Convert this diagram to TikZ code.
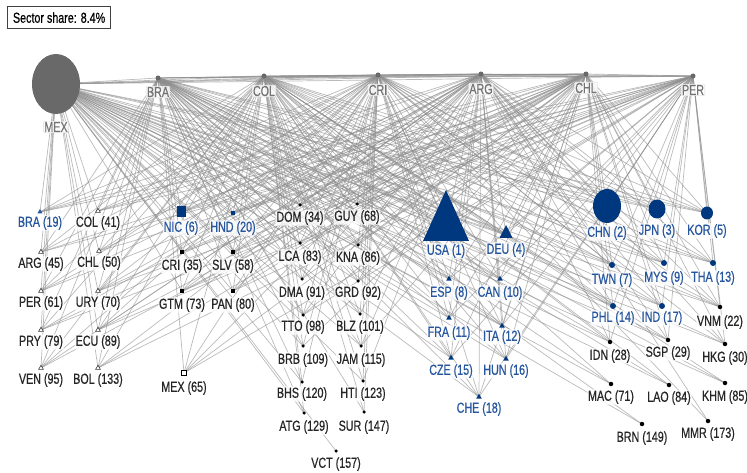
\documentclass[tikz,border=0pt]{standalone}
\usepackage{fontspec}
\setmainfont[FakeStretch=0.74, FakeBold=0.5]{Liberation Sans}
\usetikzlibrary{shapes.geometric}

\definecolor{navy}{RGB}{0,56,128}
\definecolor{labelblue}{RGB}{38,86,158}
\definecolor{hubgray}{RGB}{105,105,105}
\definecolor{edgegray}{RGB}{140,140,140}

\tikzset{
  edge/.style={draw=edgegray, line width=0.7pt, opacity=0.6},
  hub/.style={circle, fill=hubgray, inner sep=0pt, minimum size=5pt},
  lab/.style={fill=white, fill opacity=0.8, text opacity=1, inner sep=0.8pt,
    rounded corners=1pt, font=\fontsize{14.5}{16}\selectfont},
  hublab/.style={lab, text=black!55, draw=black!15, draw opacity=1},
  blk/.style={lab, text=black!85},
  blu/.style={lab, text=labelblue},
  tri/.style={regular polygon, regular polygon sides=3, inner sep=0pt, minimum size=6pt},
  latri/.style={tri, draw=black!80, fill=white, line width=0.6pt, minimum size=5.5pt},
  latrib/.style={tri, fill=labelblue},
  eutri/.style={tri, fill=navy, minimum size=6.5pt},
  sqr/.style={rectangle, fill=black, inner sep=0pt, minimum size=4.5pt},
  sqrb/.style={sqr, fill=navy},
  sqro/.style={sqr, fill=white, draw=black, line width=0.6pt},
  nicm/.style={rectangle, fill=navy, inner sep=0pt, minimum width=9pt, minimum height=11pt},
  cdot/.style={circle, fill=black, inner sep=0pt, minimum size=3.5pt},
  adot/.style={circle, fill=black, inner sep=0pt, minimum size=4.5pt},
  bdot/.style={circle, fill=navy, inner sep=0pt, minimum size=6pt},
  chnm/.style={ellipse, fill=navy, inner sep=0pt, minimum width=28pt, minimum height=34pt},
  jpnm/.style={ellipse, fill=navy, inner sep=0pt, minimum width=17pt, minimum height=19pt},
  korm/.style={ellipse, fill=navy, inner sep=0pt, minimum width=12pt, minimum height=13pt},
  nomark/.style={coordinate}
}

% exporters along the top
\def\hubs{mex/56/84/MEX/127, bra/158/78/BRA/92, col/264/76/COL/91, cri/378/75/CRI/90,
  arg/481/74/ARG/89, chl/586/74/CHL/88, per/693/76/PER/90}

% importers: name/x/y/label y/text/marker/label style/exporters
\def\importers{
  bra19/40/212/223/BRA (19)/latrib/blu/{mex,col,cri,arg,chl,per},
  col41/98/211/223/COL (41)/latri/blk/{mex,bra,cri,arg,chl,per},
  arg45/41/252/264/ARG (45)/latri/blk/{mex,bra,col,cri,chl,per},
  chl50/99/251/263/CHL (50)/latri/blk/{mex,bra,col,cri,arg,per},
  per61/41/291/303/PER (61)/latri/blk/{mex,bra,col,cri,arg,chl},
  ury70/98/291/303/URY (70)/latri/blk/{mex,bra,col,cri,arg,chl,per},
  pry79/41/330/342/PRY (79)/latri/blk/{mex,bra,col,arg,chl,per},
  ecu89/98/330/342/ECU (89)/latri/blk/{mex,bra,col,cri,arg,chl,per},
  ven95/41/368/380/VEN (95)/latri/blk/{mex,bra,col,cri,arg,chl},
  bol133/98/368/380/BOL (133)/latri/blk/{mex,bra,col,arg,chl,per},
  nic6/181/212/228/NIC (6)/nicm/blu/{mex,bra,col,cri,arg,chl,per},
  hnd20/233/213/228/HND (20)/sqrb/blu/{mex,bra,col,cri,arg,chl,per},
  cri35/182/252/266/CRI (35)/sqr/blk/{mex,bra,col,arg,chl,per},
  slv58/233/252/266/SLV (58)/sqr/blk/{mex,bra,col,cri,arg,chl,per},
  gtm73/182/291/305/GTM (73)/sqr/blk/{mex,bra,col,cri,arg,chl,per},
  pan80/233/291/305/PAN (80)/sqr/blk/{mex,bra,col,cri,arg,chl,per},
  mex65/184/373/388/MEX (65)/sqro/blk/{bra,col,cri,arg,chl,per},
  dom34/300/205/218/DOM (34)/cdot/blk/{mex,bra,col,cri,arg,chl,per},
  guy68/357/204/217/GUY (68)/cdot/blk/{mex,bra,col,cri,arg,chl,per},
  lca83/300/243/257/LCA (83)/cdot/blk/{mex,bra,col,cri,arg,chl},
  kna86/358/245/258/KNA (86)/cdot/blk/{mex,bra,col,cri,arg,chl},
  dma91/302/279/293/DMA (91)/cdot/blk/{mex,bra,col,cri,arg,chl},
  grd92/358/281/293/GRD (92)/cdot/blk/{mex,bra,col,cri,arg,chl},
  tto98/303/315/327/TTO (98)/cdot/blk/{mex,bra,col,cri,arg,chl,per},
  blz101/360/314/327/BLZ (101)/cdot/blk/{mex,bra,col,cri,arg},
  brb109/303/346/360/BRB (109)/cdot/blk/{mex,bra,col,cri,chl},
  jam115/361/346/360/JAM (115)/cdot/blk/{mex,bra,col,cri,arg,chl},
  bhs120/302/382/394/BHS (120)/cdot/blk/{mex,bra,col,cri},
  hti123/363/381/394/HTI (123)/cdot/blk/{mex,col,cri,arg},
  atg129/304/413/427/ATG (129)/cdot/blk/{mex,bra,col},
  sur147/364/412/427/SUR (147)/cdot/blk/{bra,col,cri},
  vct157/336/451/464/VCT (157)/cdot/blk/{mex},
  usa1/446/224/251/USA (1)/nomark/blu/{mex,bra,col,cri,arg,chl,per},
  deu4/506/234/250/DEU (4)/nomark/blu/{mex,bra,col,cri,arg,chl,per},
  esp8/449/279/293/ESP (8)/eutri/blu/{mex,bra,col,cri,arg,chl,per},
  can10/500/279/293/CAN (10)/eutri/blu/{mex,bra,col,cri,arg,chl,per},
  fra11/449/318/333/FRA (11)/eutri/blu/{mex,bra,col,cri,arg,chl,per},
  ita12/502/326/337/ITA (12)/eutri/blu/{mex,bra,col,cri,arg,chl,per},
  cze15/451/358/371/CZE (15)/eutri/blu/{mex,bra,col,cri,arg,chl,per},
  hun16/506/359/371/HUN (16)/eutri/blu/{mex,bra,col,cri,arg,chl,per},
  che18/479/397/409/CHE (18)/eutri/blu/{mex,bra,col,cri,arg,chl,per},
  chn2/607/206/233/CHN (2)/chnm/blu/{mex,bra,col,cri,arg,chl,per},
  jpn3/657/209/231/JPN (3)/jpnm/blu/{mex,bra,col,cri,arg,chl,per},
  kor5/707/213/231/KOR (5)/korm/blu/{mex,bra,col,cri,arg,chl,per},
  twn7/612/265/280/TWN (7)/bdot/blu/{mex,bra,col,cri,arg,chl,per},
  mys9/664/263/278/MYS (9)/bdot/blu/{mex,bra,col,cri,arg,chl,per},
  tha13/713/263/278/THA (13)/bdot/blu/{mex,bra,col,cri,arg,chl,per},
  phl14/613/306/318/PHL (14)/bdot/blu/{mex,bra,col,cri,arg,chl,per},
  ind17/662/306/318/IND (17)/bdot/blu/{mex,bra,col,cri,arg,chl,per},
  vnm22/720/307/322/VNM (22)/adot/blk/{mex,bra,col,cri,arg,chl,per},
  idn28/610/342/356/IDN (28)/adot/blk/{mex,bra,col,arg,chl,per},
  sgp29/668/340/353/SGP (29)/adot/blk/{mex,bra,col,arg,chl,per},
  hkg30/725/344/358/HKG (30)/adot/blk/{mex,bra,cri,arg,chl,per},
  mac71/611/384/397/MAC (71)/adot/blk/{mex,bra,col},
  lao84/669/385/398/LAO (84)/adot/blk/{mex,bra,col},
  khm85/725/383/397/KHM (85)/adot/blk/{mex,bra,col},
  brn149/642/424/438/BRN (149)/adot/blk/{mex,bra},
  mmr173/708/421/434/MMR (173)/adot/blk/{cri,arg}}

\begin{document}
\begin{tikzpicture}[x=1pt, y=-1pt]
  \useasboundingbox (0,0) rectangle (747,473);

  % exporter positions
  \foreach \n/\x/\y/\t/\ly in \hubs
    \coordinate (\n) at (\x,\y);

  % links between exporters
  \foreach \a/\b in {mex/bra, mex/col, mex/cri, mex/arg, mex/chl, mex/per,
    bra/col, bra/cri, bra/arg, bra/chl, bra/per, col/cri, col/arg, col/chl,
    col/per, cri/arg, cri/chl, cri/per, arg/chl, arg/per, chl/per}
    \draw[edge] (\a) -- (\b);

  % links to importers
  \foreach \n/\x/\y/\ly/\t/\m/\c/\hl in \importers {
    \coordinate (\n) at (\x,\y);
    \foreach \h in \hl
      \draw[edge] (\h) -- (\n);
  }

  % exporter markers and labels
  \fill[hubgray] (mex) ellipse [x radius=24, y radius=30];
  \foreach \n/\x/\y/\t/\ly in \hubs {
    \node[hub] (\n-m) at (\n) {};
    \node[hublab] (\n-l) at (\x,\ly) {\t};
  }

  % big triangles
  \fill[navy] (usa1) ++(0,-34) -- ++(23,51) -- ++(-46,0) -- cycle;
  \fill[navy] (deu4) ++(0,-9) -- ++(6.5,13) -- ++(-13,0) -- cycle;

  % importer markers and labels
  \foreach \n/\x/\y/\ly/\t/\m/\c/\hl in \importers {
    \node[\m] (\n-m) at (\n) {};
    \node[\c] (\n-l) at (\x,\ly) {\t};
  }

  % sector box
  \node[draw=black!75, line width=1.2pt, anchor=north west, inner sep=2pt,
    minimum width=103pt, minimum height=22pt, font=\fontsize{14.5}{16}\selectfont]
    (share) at (7,6) {Sector share: 8.4\%};
\end{tikzpicture}
\end{document}
